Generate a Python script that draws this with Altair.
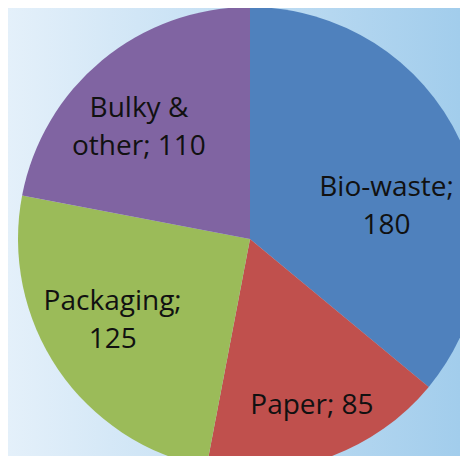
import altair as alt
import pandas as pd

# ---- data ----
categories = ["Bio-waste", "Paper", "Packaging", "Bulky & other"]
values = [180, 85, 125, 110]
labels = ["Bio-waste;\n180", "Paper; 85", "Packaging;\n125", "Bulky &\nother; 110"]

# ---- style / layout ----
colors = ["#4F81BD", "#C0504D", "#9BBB59", "#8064A2"]
label_radius = [141, 177, 160, 157]
label_dx = [9, 2, -5, -11]
label_dy = [9, 0, -27, -9]
W, H = 452, 448
CX, CY, R = 242, 231, 232

df = pd.DataFrame({
    "category": categories,
    "value": values,
    "label": labels,
    "order": list(range(len(categories))),
    "lr": label_radius,
    "ldx": label_dx,
    "ldy": label_dy,
})

bg = alt.Chart(pd.DataFrame({"k": [0]})).mark_rect(
    fill=alt.LinearGradient(
        gradient="linear",
        stops=[alt.GradientStop(color="#E4F0FA", offset=0),
               alt.GradientStop(color="#A2CDEC", offset=1)],
        x1=0, x2=1, y1=0, y2=0,
    )
).encode(x=alt.value(0), x2=alt.value(W), y=alt.value(0), y2=alt.value(H))

base = alt.Chart(df).encode(
    theta=alt.Theta("value:Q", stack=True),
    order=alt.Order("order:Q"),
)

arc = base.mark_arc(outerRadius=R, strokeWidth=0).encode(
    x=alt.value(CX),
    y=alt.value(CY),
    color=alt.Color("category:N", scale=alt.Scale(domain=categories, range=colors), legend=None),
)

text = base.mark_text(
    font="Open Sans", fontSize=28, lineBreak="\n", lineHeight=38,
    align="center", baseline="middle", color="#111111",
    radius=alt.ExprRef(expr="datum.lr"),
    dx=alt.ExprRef(expr="datum.ldx"),
    dy=alt.ExprRef(expr="datum.ldy"),
).encode(
    x=alt.value(CX),
    y=alt.value(CY),
    text=alt.Text("label:N"),
)

chart = alt.layer(bg, arc, text).properties(
    width=W, height=H, autosize="none", padding=0
).configure_view(stroke=None)

chart.save("out.html", embed_options={"renderer": "svg", "actions": False})
